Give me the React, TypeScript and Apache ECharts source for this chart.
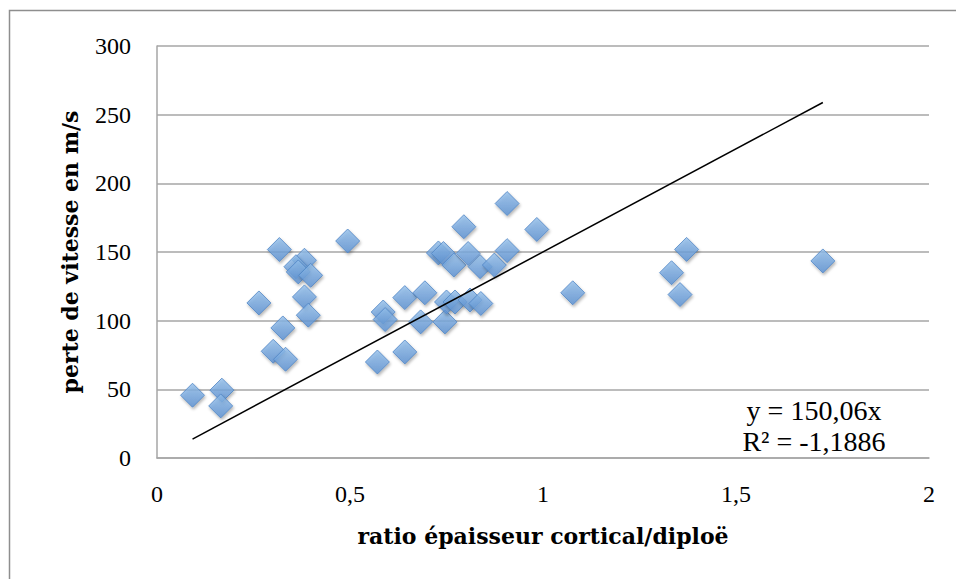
import React, { useEffect, useRef } from "react";
import * as echarts from "echarts";

const ratio = [0.092, 0.168, 0.165, 0.264, 0.317, 0.326, 0.301, 0.333, 0.382, 0.36, 0.366, 0.398, 0.382, 0.392, 0.494, 0.586, 0.591, 0.571, 0.642, 0.642, 0.694, 0.683, 0.746, 0.75, 0.772, 0.811, 0.839, 0.729, 0.742, 0.769, 0.806, 0.837, 0.874, 0.907, 0.795, 0.907, 0.984, 1.077, 1.372, 1.333, 1.355, 1.725];
const loss = [45.7, 49.4, 37.9, 112.9, 151.8, 94.7, 77.7, 71.9, 144, 139.3, 135.5, 133, 117.3, 104, 158, 106.3, 100.8, 69.9, 116.8, 77.2, 120.3, 99.1, 99.1, 113.6, 113.6, 115, 112.5, 149.3, 148.9, 140.5, 148.9, 139.3, 140.5, 151, 168.4, 185.3, 166.4, 120.3, 151.9, 134.9, 119, 143.5];
const slope = 150.06;
const equationLines = ["y = 150,06x", "R² = -1,1886"];
const xTitle = "ratio épaisseur cortical/diploë";
const yTitle = "perte de vitesse en m/s";

const TITLE_FONT = "'DejaVu Serif', serif";
const NUM_FONT = "'Liberation Serif', serif";

export default function App() {
  const ref = useRef<HTMLDivElement>(null);
  useEffect(() => {
    if (!ref.current) return;
    const chart = echarts.init(ref.current, undefined, { renderer: "svg" });
    const pts = ratio.map((x, i) => [x, loss[i]]);
    const xmin = Math.min(...ratio);
    const xmax = Math.max(...ratio);
    const trend = [
      [xmin, slope * xmin],
      [xmax, slope * xmax],
    ];
    const fmt = (v: number) => String(v).replace(".", ",");
    chart.setOption({
      animation: false,
      backgroundColor: "#ffffff",
      grid: { left: 157, right: 27, top: 46, bottom: 121, containLabel: false },
      xAxis: {
        type: "value",
        min: 0,
        max: 2,
        interval: 0.5,
        name: xTitle,
        nameLocation: "middle",
        nameGap: 67,
        nameTextStyle: { fontFamily: TITLE_FONT, fontWeight: "bold", fontSize: 22, color: "#000" },
        axisLine: { show: true, lineStyle: { color: "#a6a6a6", width: 1.5 } },
        axisTick: { show: false },
        splitLine: { show: false },
        axisLabel: { formatter: fmt, fontFamily: NUM_FONT, fontSize: 24, color: "#000", margin: 24 },
      },
      yAxis: {
        type: "value",
        min: 0,
        max: 300,
        interval: 50,
        name: yTitle,
        nameLocation: "middle",
        nameGap: 76,
        nameRotate: 90,
        nameTextStyle: { fontFamily: TITLE_FONT, fontWeight: "bold", fontSize: 22, color: "#000" },
        axisLine: { show: true, lineStyle: { color: "#a6a6a6", width: 1.5 } },
        axisTick: { show: false },
        splitLine: { show: true, lineStyle: { color: "#a6a6a6", width: 1.5 } },
        axisLabel: { fontFamily: NUM_FONT, fontSize: 24, color: "#000", margin: 26 },
      },
      series: [
        {
          type: "scatter",
          data: pts,
          symbol: "diamond",
          symbolSize: 24,
          itemStyle: {
            color: {
              type: "linear",
              x: 0,
              y: 0,
              x2: 0,
              y2: 1,
              colorStops: [
                { offset: 0, color: "#93bfeb" },
                { offset: 1, color: "#5a90d2" },
              ],
            },
            borderColor: "#4f84c4",
            borderWidth: 1,
            shadowBlur: 3,
            shadowOffsetX: 1,
            shadowOffsetY: 2,
            shadowColor: "rgba(0,0,0,0.35)",
          },
          z: 2,
        },
        {
          type: "line",
          data: trend,
          symbol: "none",
          lineStyle: { color: "#000", width: 1.5 },
          z: 3,
        },
      ],
      graphic: [
        {
          type: "rect",
          shape: { x: 9.5, y: 10.5, width: 1000, height: 1000 },
          style: { fill: "none", stroke: "#8e8e8e", lineWidth: 1.5 },
          silent: true,
          z: -1,
        },
        {
          type: "text",
          x: 814,
          y: 410,
          style: { text: equationLines[0], font: `28px ${NUM_FONT}`, fill: "#000", align: "center", verticalAlign: "middle" },
        },
        {
          type: "text",
          x: 814,
          y: 441,
          style: { text: equationLines[1], font: `28px ${NUM_FONT}`, fill: "#000", align: "center", verticalAlign: "middle" },
        },
      ],
    });
    return () => chart.dispose();
  }, []);
  return <div ref={ref} style={{ position: "fixed", left: 0, top: 0, width: 956, height: 579 }} />;
}
